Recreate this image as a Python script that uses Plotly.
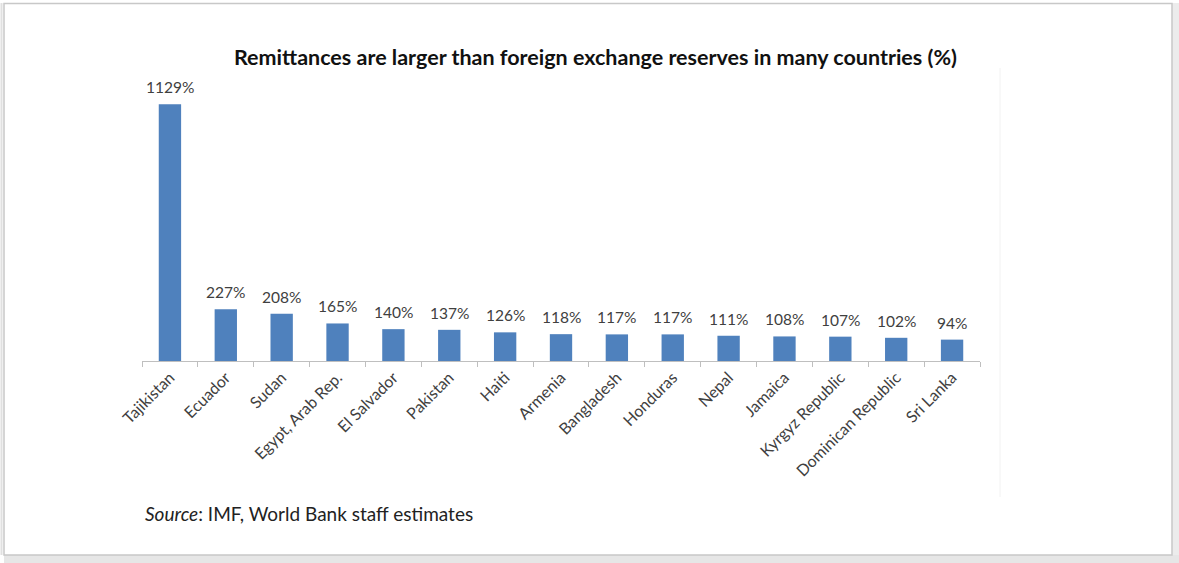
import plotly.graph_objects as go

countries = [
    "Tajikistan", "Ecuador", "Sudan", "Egypt, Arab Rep.", "El Salvador",
    "Pakistan", "Haiti", "Armenia", "Bangladesh", "Honduras", "Nepal",
    "Jamaica", "Kyrgyz Republic", "Dominican Republic", "Sri Lanka",
]
remit_pct_reserves = [1129, 227, 208, 165, 140, 137, 126, 118, 117, 117, 111, 108, 107, 102, 94]

W, H = 1179, 563
FONT = "Lato"
BAR_COLOR = "#4f81bd"
TEXT_GRAY = "#404040"


def px(x):
    return x / W


def py(y):
    return 1 - y / H


fig = go.Figure()
fig.add_trace(go.Bar(
    x=countries,
    y=remit_pct_reserves,
    marker=dict(color=BAR_COLOR, line=dict(width=0)),
    width=0.4,
    hoverinfo="x+y",
))

# value labels above each bar
annotations = [
    dict(x=c, y=v, xref="x", yref="y", text=f"{v}%", showarrow=False,
         yanchor="bottom", yshift=6,
         font=dict(family=FONT, size=15.5, color=TEXT_GRAY))
    for c, v in zip(countries, remit_pct_reserves)
]

annotations.append(dict(
    x=px(595), y=py(57), xref="paper", yref="paper", showarrow=False,
    xanchor="center", yanchor="middle",
    text="<b>Remittances are larger than foreign exchange reserves in many countries (%)</b>",
    font=dict(family=FONT, size=21.5, color="#111111"),
))
annotations.append(dict(
    x=px(143), y=py(513), xref="paper", yref="paper", showarrow=False,
    xanchor="left", yanchor="middle",
    text="<i>Source</i>: IMF, World Bank staff estimates",
    font=dict(family=FONT, size=19, color="#222222"),
))

shapes = [
    # outer frame with soft shadow on the right and bottom
    dict(type="rect", xref="paper", yref="paper", x0=px(1172), x1=px(1179), y0=py(563), y1=py(3),
         fillcolor="#ececec", line=dict(width=0), layer="below"),
    dict(type="rect", xref="paper", yref="paper", x0=px(4), x1=px(1179), y0=py(563), y1=py(555),
         fillcolor="#e6e6e6", line=dict(width=0), layer="below"),
    dict(type="rect", xref="paper", yref="paper", x0=px(4), x1=px(1172), y0=py(555), y1=py(3.5),
         fillcolor="rgba(0,0,0,0)", line=dict(color="#c8c8c8", width=1.5), layer="below"),
    dict(type="line", xref="paper", yref="paper", x0=px(1.5), x1=px(1.5), y0=py(555), y1=py(3),
         line=dict(color="#e0e0e0", width=2), layer="below"),
    # faint chart-area edge
    dict(type="line", xref="paper", yref="paper", x0=px(1000), x1=px(1000), y0=py(497), y1=py(68),
         line=dict(color="#f2f2f2", width=1), layer="below"),
]

fig.update_layout(
    width=W, height=H,
    margin=dict(l=0, r=0, t=0, b=0),
    paper_bgcolor="white", plot_bgcolor="white",
    showlegend=False,
    bargap=0.6,
    annotations=annotations,
    shapes=shapes,
    font=dict(family=FONT, color=TEXT_GRAY),
)
fig.update_xaxes(
    domain=[px(142), px(980)],
    automargin=False,
    showline=True, linecolor="#bfbfbf", linewidth=1,
    ticks="outside", ticklen=5, tickcolor="#bfbfbf", tickwidth=1,
    tickson="boundaries",
    tickangle=-45,
    tickfont=dict(family=FONT, size=16, color=TEXT_GRAY),
    showgrid=False, zeroline=False,
)
fig.update_yaxes(
    domain=[py(361), py(88)],
    range=[0, 1200],
    automargin=False,
    visible=False,
    showgrid=False, zeroline=False,
)

fig.write_html("out.html")
